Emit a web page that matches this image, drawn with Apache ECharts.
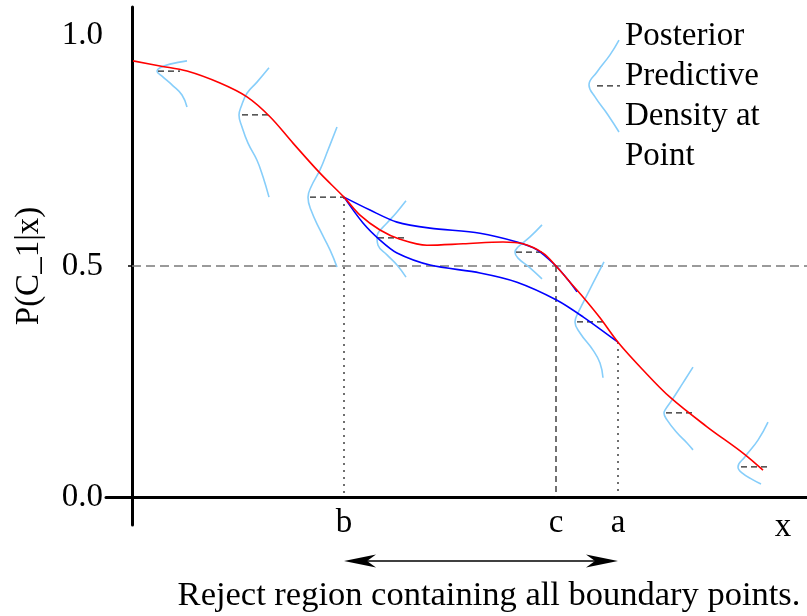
<!DOCTYPE html>
<html><head><meta charset="utf-8">
<script src="https://cdn.jsdelivr.net/npm/echarts@6/dist/echarts.min.js"></script>
<style>html,body{margin:0;padding:0;background:#fff}#c{width:807px;height:616px}</style>
</head><body><div id="c"></div>
<script>
// ---------- data (x in arbitrary units, y = P(C_1|x)) ----------
const meanCurve = [[1,0.944],[28,0.933],[55,0.922],[88,0.896],[115,0.866],[138,0.823],[161,0.766],[188,0.701],[212,0.649],[228,0.610],[248,0.578],[268,0.558],[295,0.545],[331,0.548],[371,0.552],[391,0.548],[411,0.528],[424,0.5],[438,0.465],[451,0.433],[468,0.388],[486,0.335],[511,0.275],[538,0.216],[575,0.152],[611,0.095],[631,0.058]];
const upperBound = [[212,0.649],[238,0.621],[265,0.595],[298,0.582],[348,0.571],[385,0.552],[405,0.535],[424,0.5],[436,0.470],[445,0.444]];
const lowerBound = [[212,0.649],[231,0.593],[248,0.556],[265,0.528],[298,0.502],[348,0.485],[385,0.465],[425,0.426],[451,0.390],[486,0.335]];

const density1 = [[55,0.944],[38,0.937],[28,0.929],[25,0.922],[30,0.911],[41,0.890],[50,0.870],[55,0.844]];
const density2 = [[137,0.929],[125,0.898],[115,0.874],[109,0.844],[107,0.827],[110,0.801],[116,0.766],[125,0.729],[131,0.693],[137,0.649]];
const density3 = [[205,0.801],[196,0.751],[188,0.708],[179,0.671],[176,0.649],[179,0.621],[188,0.578],[198,0.535],[205,0.498]];
const density4 = [[274,0.641],[265,0.617],[255,0.593],[246,0.571],[245,0.561],[246,0.545],[255,0.524],[265,0.502],[274,0.476]];
const density5 = [[410,0.589],[398,0.563],[386,0.541],[383,0.530],[386,0.517],[398,0.496],[410,0.472]];
const density6 = [[472,0.509],[461,0.463],[451,0.420],[445,0.394],[443,0.379],[448,0.355],[461,0.318],[468,0.290],[471,0.258]];
const density7 = [[561,0.281],[551,0.247],[540,0.210],[533,0.188],[532,0.182],[535,0.167],[545,0.139],[555,0.117],[561,0.102]];
const density8 = [[636,0.162],[626,0.123],[613,0.087],[606,0.065],[610,0.052],[621,0.037],[629,0.028]];
const densityKey = [[487,0.989],[478,0.957],[465,0.920],[457,0.892],[463,0.866],[476,0.827],[487,0.790]];
// mean markers: [xStart, xEnd, y]
const meanMarks = [[26,48,0.922],[110,136,0.827],[178,212,0.649],[246,273,0.561],[384,410,0.530],[445,471,0.379],[534,561,0.182],[609,635,0.065],[465,488,0.890]];

const pointB = [212, 0.649];
const pointC = [424, 0.5];
const pointA = [486, 0.335];
const xTickValues = [212, 424, 486];
const xTickLabels = ['b', 'c', 'a'];
const yTickValues = [0, 0.5, 1.0];
const threshold = 0.5;
const legendLines = ['Posterior', 'Predictive', 'Density at', 'Point'];

// ---------- chart ----------
const FONT = '"Liberation Serif", "Times New Roman", serif';
const chart = echarts.init(document.getElementById('c'), null, {renderer: 'canvas'});

function ln(data, color, width, type, z, smooth) {
  return {type: 'line', data: data, symbol: 'none', silent: true, animation: false,
    smooth: smooth || false, lineStyle: {color: color, width: width, type: type || 'solid'}, z: z || 2};
}
const series = [];
series.push(ln([[0, threshold], [675, threshold]], '#7a7a7a', 1.5, [9, 5], 1));
series.push(ln([[-4, threshold], [0, threshold]], '#000', 1.5, 'solid', 1));
series.push(ln([pointB, [pointB[0], 0]], '#000', 1.5, [1.5, 5.5], 1));
series.push(ln([pointA, [pointA[0], 0]], '#000', 1.5, [1.5, 5.5], 1));
series.push(ln([pointC, [pointC[0], 0]], '#111', 1.2, [6, 4], 1));
[density1, density2, density3, density4, density5, density6, density7, density8, densityKey].forEach(d => {
  series.push(ln(d, '#87cefa', 1.6, 'solid', 2, 0.45));
});
meanMarks.forEach(m => series.push(ln([[m[0], m[2]], [m[1], m[2]]], '#222', 1.2, [6, 4], 3)));
series.push(ln(upperBound, '#0000ff', 1.6, 'solid', 4, 0.3));
series.push(ln(lowerBound, '#0000ff', 1.6, 'solid', 4, 0.3));
series.push(ln(meanCurve, '#ff0000', 1.6, 'solid', 5, 0.35));

chart.setOption({
  animation: false,
  grid: {left: 106, right: 0, top: 7, bottom: 91, containLabel: false, outerBoundsMode: 'none'},
  xAxis: {
    type: 'value', min: -26, max: 675,
    axisLine: {show: true, onZero: true, lineStyle: {color: '#000', width: 3}},
    axisTick: {show: false},
    splitLine: {show: false},
    axisLabel: {customValues: xTickValues, margin: -18,
      formatter: v => xTickLabels[xTickValues.indexOf(v)] || '',
      color: '#000', fontFamily: FONT, fontSize: 33}
  },
  yAxis: {
    type: 'value', min: -0.0606, max: 1.0606,
    name: 'P(C_1|x)', nameLocation: 'middle', nameGap: 60,
    nameTextStyle: {color: '#000', fontFamily: FONT, fontSize: 33},
    axisLine: {show: true, onZero: true, lineStyle: {color: '#000', width: 3}},
    axisTick: {show: false},
    splitLine: {show: false},
    axisLabel: {customValues: yTickValues, margin: 3,
      formatter: v => v.toFixed(1),
      color: '#000', fontFamily: FONT, fontSize: 33}
  },
  series: series
});

// annotations positioned from the axes
const pb = chart.convertToPixel({gridIndex: 0}, [pointB[0], 0]);
const pa = chart.convertToPixel({gridIndex: 0}, [pointA[0], 0]);
const pk = chart.convertToPixel({gridIndex: 0}, [densityKey[0][0], 1.0]);
const arrowY = pb[1] + 64;
const hl = 32, hw = 6.5, notch = 23;
const textStyle = (t, x, y, align, size) => ({type: 'text', silent: true, x: x, y: y,
  style: {text: t, font: (size || 33) + 'px ' + FONT, fill: '#000', textAlign: align || 'left', textVerticalAlign: 'middle'}});
const graphics = [
  {type: 'line', silent: true, shape: {x1: pb[0] + notch, y1: arrowY, x2: pa[0] - notch, y2: arrowY},
    style: {stroke: '#000', lineWidth: 1.5}},
  {type: 'polygon', silent: true, shape: {points: [[pb[0], arrowY], [pb[0] + hl, arrowY - hw], [pb[0] + notch, arrowY], [pb[0] + hl, arrowY + hw]]},
    style: {fill: '#000'}},
  {type: 'polygon', silent: true, shape: {points: [[pa[0], arrowY], [pa[0] - hl, arrowY - hw], [pa[0] - notch, arrowY], [pa[0] - hl, arrowY + hw]]},
    style: {fill: '#000'}},
  textStyle('Reject region containing all boundary points.', 489, arrowY + 35, 'center', 34.5),
  textStyle('x', 783, pb[1] + 30, 'center')
];
legendLines.forEach((t, i) => graphics.push(textStyle(t, pk[0] + 6, 36 + i * 40)));
chart.setOption({graphic: graphics});
</script>
</body></html>
